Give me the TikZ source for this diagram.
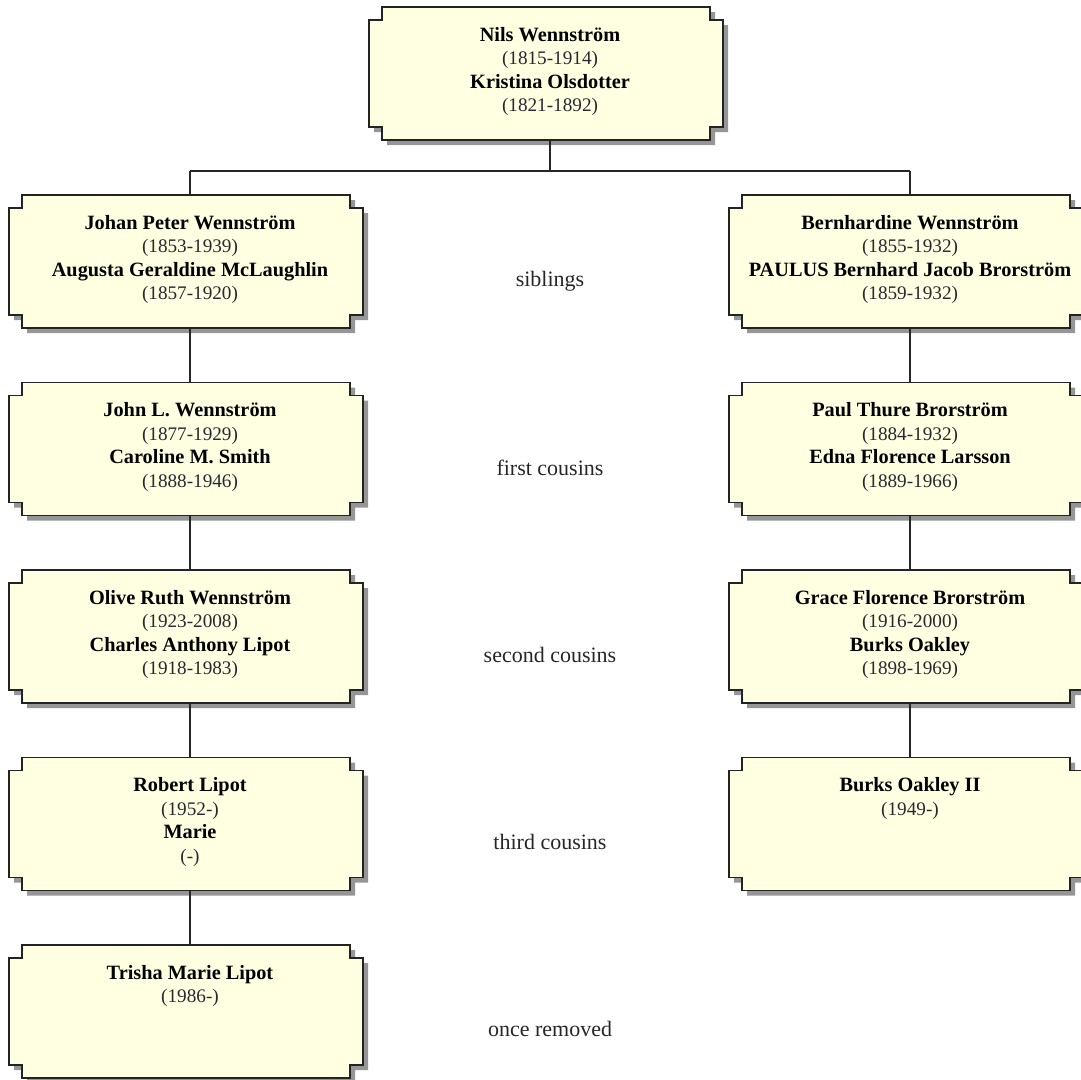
\documentclass[tikz,border=0pt]{standalone}
\usepackage{fontspec}
\setmainfont{Liberation Serif}
\usetikzlibrary{calc,backgrounds}
\definecolor{boxfill}{RGB}{255,255,225}
\definecolor{boxline}{RGB}{35,35,35}
\definecolor{shadowc}{RGB}{150,150,150}
\definecolor{datec}{RGB}{40,40,50}
\newcommand\nmline[1]{{\fontsize{20.3}{23.5}\selectfont\bfseries #1}}
\newcommand\dtline[1]{{\fontsize{19.2}{23.5}\selectfont\color{datec}#1}}
\newcommand\famtext[1]{\parbox[t][133pt][t]{362pt}{\fontsize{19.2}{23.5}\selectfont\centering\vspace*{20pt}#1\par}}
\tikzset{
  famnode/.style={anchor=north west, inner sep=0pt, outer sep=0pt},
  shadowsty/.style={fill=shadowc},
  boxsty/.style={fill=boxfill, draw=boxline, line width=1.6pt},
  link/.style={draw=black!85, line width=1.4pt},
  lab/.style={font=\fontsize{22}{26}\selectfont, text=black!85},
}
\begin{document}
\begin{tikzpicture}[x=1pt,y=-1pt]
\useasboundingbox (0,0) rectangle (1081,1079);

\node[famnode] (top) at (369,7) {\famtext{\nmline{Nils Wennström}\\\dtline{(1815-1914)}\\\nmline{Kristina Olsdotter}\\\dtline{(1821-1892)}}};

\node[famnode] (l1) at (9,195) {\famtext{\nmline{Johan Peter Wennström}\\\dtline{(1853-1939)}\\\nmline{Augusta Geraldine McLaughlin}\\\dtline{(1857-1920)}}};
\node[famnode] (l2) at (9,382.5) {\famtext{\nmline{John L. Wennström}\\\dtline{(1877-1929)}\\\nmline{Caroline M. Smith}\\\dtline{(1888-1946)}}};
\node[famnode] (l3) at (9,570) {\famtext{\nmline{Olive Ruth Wennström}\\\dtline{(1923-2008)}\\\nmline{Charles Anthony Lipot}\\\dtline{(1918-1983)}}};
\node[famnode] (l4) at (9,757.5) {\famtext{\nmline{Robert Lipot}\\\dtline{(1952-)}\\\nmline{Marie}\\\dtline{(-)}}};
\node[famnode] (l5) at (9,945) {\famtext{\nmline{Trisha Marie Lipot}\\\dtline{(1986-)}}};

\node[famnode] (r1) at (729,195) {\famtext{\nmline{Bernhardine Wennström}\\\dtline{(1855-1932)}\\\nmline{PAULUS Bernhard Jacob Brorström}\\\dtline{(1859-1932)}}};
\node[famnode] (r2) at (729,382.5) {\famtext{\nmline{Paul Thure Brorström}\\\dtline{(1884-1932)}\\\nmline{Edna Florence Larsson}\\\dtline{(1889-1966)}}};
\node[famnode] (r3) at (729,570) {\famtext{\nmline{Grace Florence Brorström}\\\dtline{(1916-2000)}\\\nmline{Burks Oakley}\\\dtline{(1898-1969)}}};
\node[famnode] (r4) at (729,757.5) {\famtext{\nmline{Burks Oakley II}\\\dtline{(1949-)}}};

\begin{scope}[on background layer]
\foreach \nd in {top,l1,l2,l3,l4,l5,r1,r2,r3,r4} {
  \foreach \d/\st in {5pt/shadowsty, 0pt/boxsty} {
    \path[\st] let \p1=(\nd.north west), \p2=(\nd.south east) in
      (\x1+13pt+\d,\y1-\d) -- (\x2-21pt+\d,\y1-\d) -- (\x2-21pt+\d,\y1-13pt-\d)
      -- (\x2-8pt+\d,\y1-13pt-\d) -- (\x2-8pt+\d,\y2+13pt-\d) -- (\x2-21pt+\d,\y2+13pt-\d)
      -- (\x2-21pt+\d,\y2-\d) -- (\x1+13pt+\d,\y2-\d) -- (\x1+13pt+\d,\y2+13pt-\d)
      -- (\x1+\d,\y2+13pt-\d) -- (\x1+\d,\y1-13pt-\d) -- (\x1+13pt+\d,\y1-13pt-\d) -- cycle;
  }
}
\end{scope}

\coordinate (jL) at (190,171);
\coordinate (jR) at (910,171);
\coordinate (jT) at (550,171);
\draw[link] (top.south) -- (jT);
\draw[link] (jL) -- (jR);
\draw[link] (jL) -- (l1.north);
\draw[link] (jR) -- (r1.north);
\draw[link] (l1.south) -- (l2.north);
\draw[link] (l2.south) -- (l3.north);
\draw[link] (l3.south) -- (l4.north);
\draw[link] (l4.south) -- (l5.north);
\draw[link] (r1.south) -- (r2.north);
\draw[link] (r2.south) -- (r3.north);
\draw[link] (r3.south) -- (r4.north);

\node[lab] (s1) at (550,281) {siblings};
\node[lab] (s2) at (550,468) {first cousins};
\node[lab] (s3) at (550,655) {second cousins};
\node[lab] (s4) at (550,842) {third cousins};
\node[lab] (s5) at (550,1029) {once removed};
\end{tikzpicture}
\end{document}
